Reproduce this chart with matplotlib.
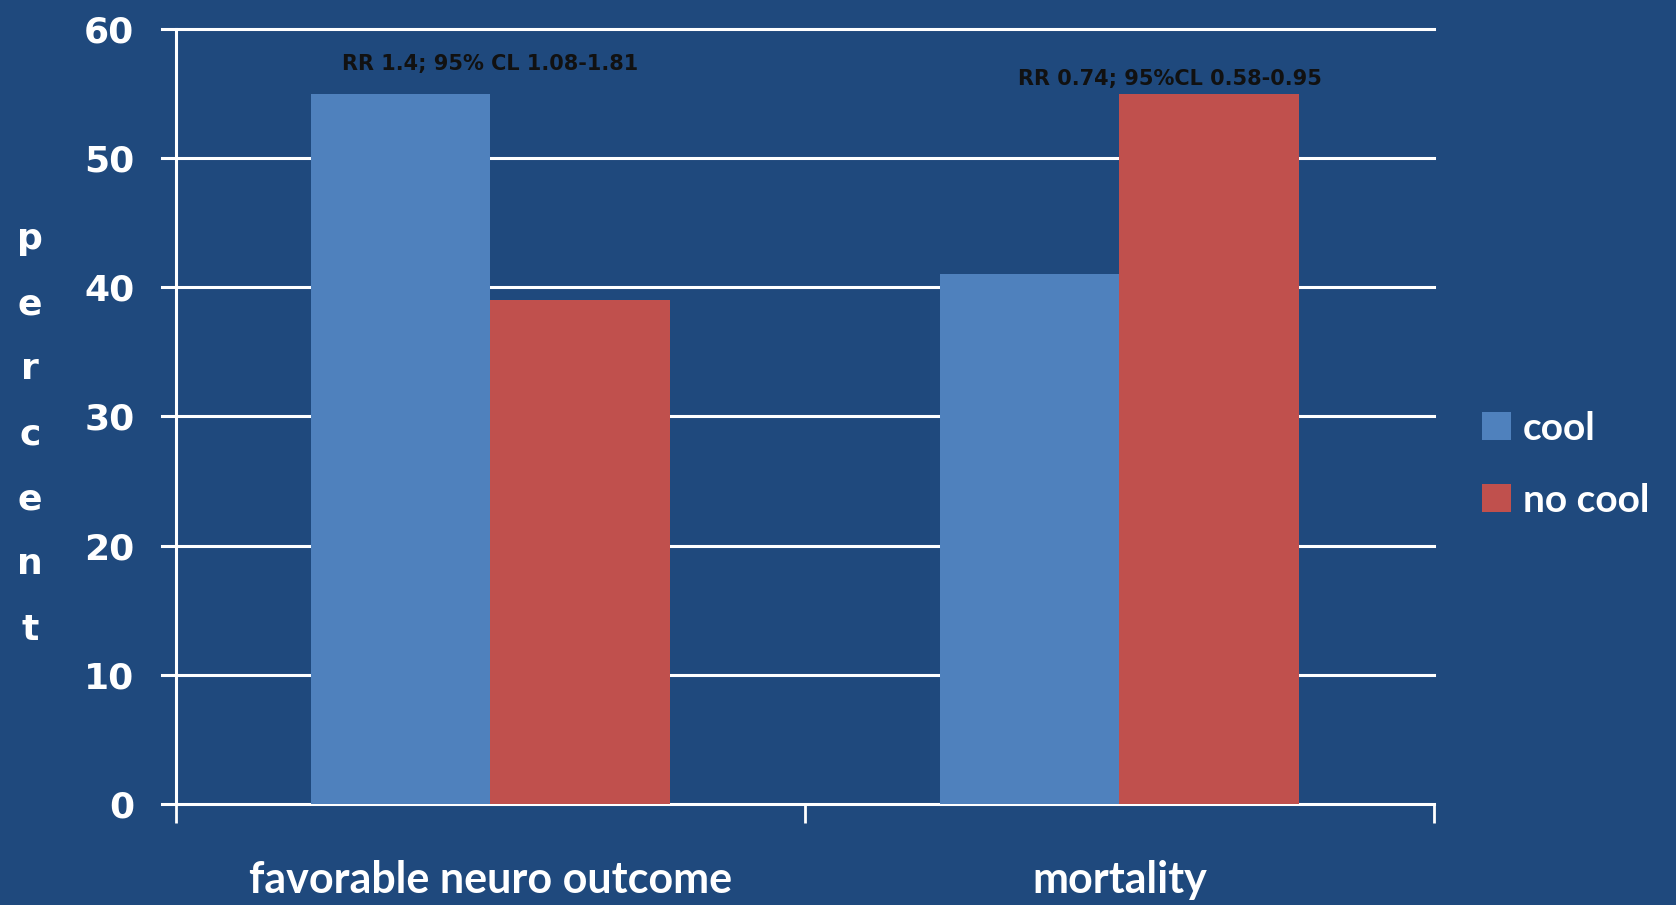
import matplotlib
matplotlib.use("Agg")
import matplotlib.pyplot as plt
import numpy as np
from matplotlib.patches import Patch

categories = ["favorable neuro outcome", "mortality"]
series_names = ["cool", "no cool"]
cool_values = [55, 41]
no_cool_values = [39, 55]
y_ticks = [0, 10, 20, 30, 40, 50, 60]
annotations = ["RR 1.4; 95% CL 1.08-1.81", "RR 0.74; 95%CL 0.58-0.95"]

BG = "#1F497D"
C_COOL = "#4F81BD"
C_NOCOOL = "#C0504D"
WHITE = "#FFFFFF"

fig = plt.figure(figsize=(16.76, 9.05), dpi=100, facecolor=BG)
ax = fig.add_axes([0.105, 0.1116, 0.7506, 0.8564], facecolor=BG)

x = np.arange(len(categories))
w = 0.285
ax.bar(x - w / 2, cool_values, width=w, color=C_COOL, zorder=3, label=series_names[0])
ax.bar(x + w / 2, no_cool_values, width=w, color=C_NOCOOL, zorder=3, label=series_names[1])

ax.set_xlim(-0.5, len(categories) - 0.5)
ax.set_ylim(0, 60)

# horizontal gridlines extending slightly past the y axis
for t in y_ticks:
    ax.axhline(t, color=WHITE, lw=2.2, zorder=1, xmin=-0.011, xmax=1.0, clip_on=False)

for s in ["top", "right", "bottom"]:
    ax.spines[s].set_visible(False)
ax.spines["left"].set_color(WHITE)
ax.spines["left"].set_linewidth(2.2)
ax.spines["left"].set_zorder(4)

ax.set_yticks(y_ticks)
ax.tick_params(axis="y", length=0, pad=30, labelsize=26, labelcolor=WHITE)
for lab in ax.get_yticklabels():
    lab.set_fontweight("bold")
    lab.set_family("DejaVu Sans")

# category separators below the axis
ax.set_xticks([-0.5, 0.5, 1.5])
ax.set_xticklabels([])
ax.tick_params(axis="x", length=14, width=2, color=WHITE, direction="out")
ax.set_xticks(x, minor=True)
ax.set_xticklabels(categories, minor=True)
ax.tick_params(axis="x", which="minor", length=0, pad=40, labelsize=31, labelcolor=WHITE)
for lab in ax.get_xticklabels(minor=True):
    lab.set_family(["Lato", "DejaVu Sans"])
    lab.set_fontweight("bold")

# vertical stacked y label
fig.text(0.018, 0.52, "\n".join("percent"), color=WHITE, fontsize=26, fontweight="bold",
         family="DejaVu Sans", ha="center", va="center", linespacing=2.15)

ax.text(0, 57.3, annotations[0], ha="center", va="center", fontsize=15,
        color="#111111", fontweight="bold", family="DejaVu Sans")
ax.text(1.08, 56.1, annotations[1], ha="center", va="center", fontsize=15,
        color="#111111", fontweight="bold", family="DejaVu Sans")

handles = [Patch(facecolor=C_COOL, edgecolor="none"), Patch(facecolor=C_NOCOOL, edgecolor="none")]
leg = fig.legend(handles, series_names, loc="center left", bbox_to_anchor=(0.868, 0.487),
                 frameon=False, handlelength=0.75, handleheight=0.75, handletextpad=0.3,
                 labelspacing=0.95, borderpad=0.2,
                 prop={"family": ["Lato", "DejaVu Sans"], "size": 28, "weight": "bold"})
for t in leg.get_texts():
    t.set_color(WHITE)

fig.savefig("out.png", dpi=100, facecolor=BG)
